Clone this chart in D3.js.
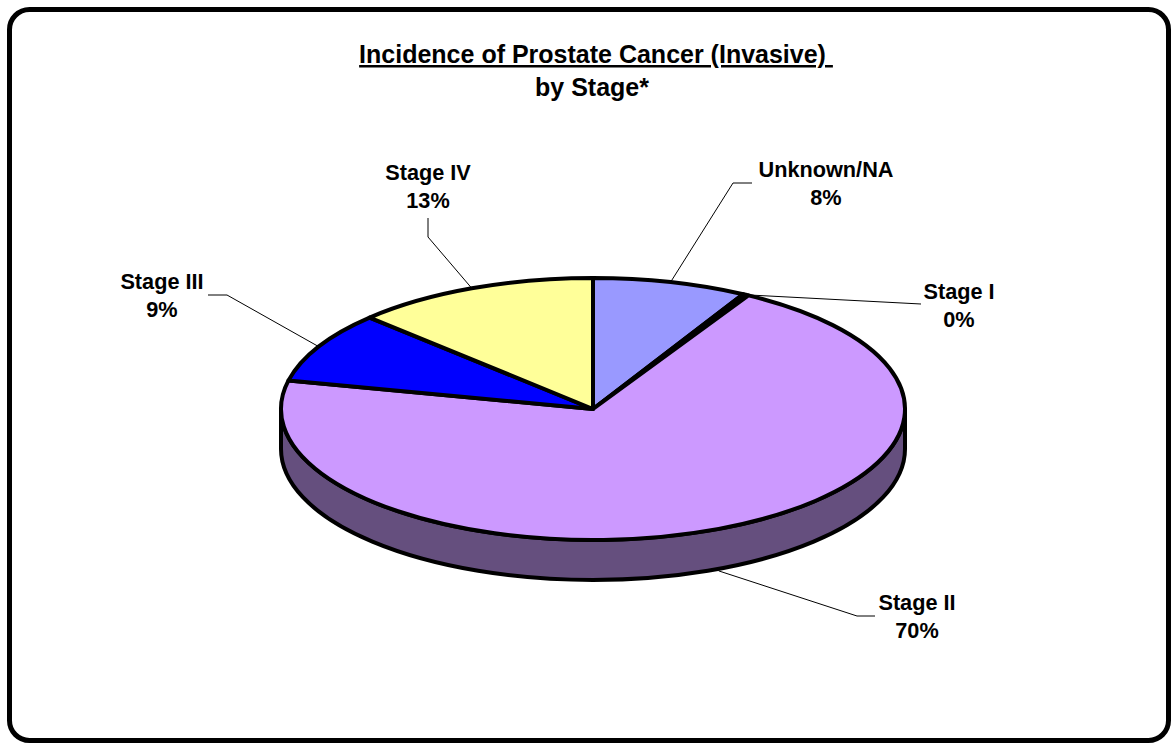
<!DOCTYPE html>
<html>
<head>
<meta charset="utf-8">
<script src="https://cdn.jsdelivr.net/npm/d3@7"></script>
<style>
  html, body { margin: 0; padding: 0; background: #fff; }
  svg { display: block; }
  text { font-family: "Liberation Sans", Arial, sans-serif; font-weight: bold; fill: #000; }
</style>
</head>
<body>
<svg id="chart" width="1171" height="743"></svg>
<script>
// ---- data ----
const categories = ["Unknown/NA", "Stage I", "Stage II", "Stage III", "Stage IV"];
const values = [8.0, 0.3, 70.2, 8.8, 12.7];
const percentLabels = ["8%", "0%", "70%", "9%", "13%"];
const topColors = ["#9999FF", "#C8C8C8", "#CC99FF", "#0000FF", "#FFFF99"];
const sideColors = ["#4D4D80", "#646464", "#654F7E", "#000080", "#80804C"];
const titleLines = ["Incidence of Prostate Cancer (Invasive) ", "by Stage*"];

// ---- layout ----
const cx = 593, cy = 409, rx = 312, ry = 131, depth = 40;
// label layout: centre x, first baseline y, leader elbow points
const labelLayout = [
  { x: 826, y: 177, pts: [[733, 183], [752, 183]], side: false },
  { x: 959, y: 299, pts: [[921, 304]], side: false },
  { x: 917, y: 610, pts: [[857, 616], [875, 616]], side: true },
  { x: 162, y: 289, pts: [[227, 295], [208, 295]], side: false },
  { x: 428, y: 180, pts: [[428, 237], [428, 218]], side: false }
];

const svg = d3.select("#chart");

// border
svg.append("rect")
  .attr("x", 9.5).attr("y", 9.5)
  .attr("width", 1159).attr("height", 731)
  .attr("rx", 20).attr("ry", 20)
  .attr("fill", "#fff").attr("stroke", "#000").attr("stroke-width", 5);

function addText(x, y, str, size, underline) {
  const t = svg.append("text")
    .attr("x", x).attr("y", y)
    .attr("text-anchor", "middle")
    .attr("font-size", size)
    .style("white-space", "pre")
    .text(str);
  if (underline) t.attr("text-decoration", "underline");
  return t;
}

// title
addText(cx + 3, 63, titleLines[0], 25, true);
addText(cx - 1, 96, titleLines[1], 25, false);

// pie angles
const pie = d3.pie().sort(null).value(d => d).startAngle(0).endAngle(2 * Math.PI);
const arcs = pie(values);
const P = (t, dy = 0) => [cx + rx * Math.sin(t), cy - ry * Math.cos(t) + dy];

const g = svg.append("g");

// sides (front half: t in [pi/2, 3pi/2])
arcs.forEach((a, i) => {
  const s = Math.max(a.startAngle, Math.PI / 2);
  const e = Math.min(a.endAngle, 3 * Math.PI / 2);
  if (e <= s) return;
  const p0 = P(s), p1 = P(e), q1 = P(e, depth), q0 = P(s, depth);
  const large = (e - s) > Math.PI ? 1 : 0;
  const d = `M${p0}A${rx},${ry} 0 ${large} 1 ${p1}L${q1}A${rx},${ry} 0 ${large} 0 ${q0}Z`;
  g.append("path").attr("d", d)
    .attr("fill", sideColors[i]).attr("stroke", "#000")
    .attr("stroke-width", 4).attr("stroke-linejoin", "round");
});

// tops
arcs.forEach((a, i) => {
  const p0 = P(a.startAngle), p1 = P(a.endAngle);
  const large = (a.endAngle - a.startAngle) > Math.PI ? 1 : 0;
  const d = `M${cx},${cy}L${p0}A${rx},${ry} 0 ${large} 1 ${p1}Z`;
  g.append("path").attr("d", d)
    .attr("fill", topColors[i]).attr("stroke", "#000")
    .attr("stroke-width", 4).attr("stroke-linejoin", "round");
});

// leader lines + labels
arcs.forEach((a, i) => {
  const L = labelLayout[i];
  const mid = (a.startAngle + a.endAngle) / 2;
  const start = P(mid, L.side ? depth + 2 : 0);
  const pts = [start].concat(L.pts);
  svg.append("path")
    .attr("d", d3.line()(pts))
    .attr("fill", "none").attr("stroke", "#000").attr("stroke-width", 1);
  addText(L.x, L.y, categories[i], 21.7, false);
  addText(L.x, L.y + 28, percentLabels[i], 21.7, false);
});
</script>
</body>
</html>
